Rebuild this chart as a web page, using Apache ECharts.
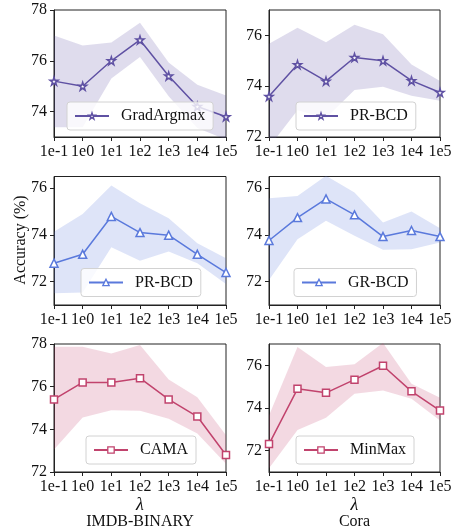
<!DOCTYPE html>
<html lang="en">
<head>
    <meta charset="UTF-8">
    <title>Accuracy vs lambda</title>
    <script src="https://cdn.jsdelivr.net/npm/echarts@6/dist/echarts.min.js"></script>
    <style>
        html, body { margin: 0; padding: 0; background: #fff; }
        #chart { width: 463px; height: 531px; }
    </style>
</head>
<body>
    <div id="chart"></div>
    <script>
        // x categories (lambda)
        const lambdas = ['1e-1', '1e0', '1e1', '1e2', '1e3', '1e4', '1e5'];

        // IMDB-BINARY, GradArgmax
        const gradArgmaxMean = [75.2, 75.0, 76.0, 76.82, 75.4, 74.2, 73.8];
        const gradArgmaxLow = [73.38, 73.38, 75.3, 76.15, 74.6, 73.35, 72.9];
        const gradArgmaxHigh = [77.0, 76.6, 76.72, 77.5, 75.93, 75.06, 74.63];

        // Cora, PR-BCD
        const prbcdCoraMean = [73.6, 74.85, 74.2, 75.13, 75.0, 74.22, 73.75];
        const prbcdCoraLow = [71.6, 73.05, 72.75, 73.85, 73.98, 73.62, 73.43];
        const prbcdCoraHigh = [75.67, 76.3, 75.73, 76.42, 76.05, 74.85, 74.2];

        // IMDB-BINARY, PR-BCD
        const prbcdImdbMean = [72.79, 73.17, 74.79, 74.1, 73.99, 73.17, 72.39];
        const prbcdImdbLow = [71.5, 71.54, 73.47, 72.89, 73.29, 72.79, 71.9];
        const prbcdImdbHigh = [74.14, 74.89, 76.11, 75.36, 74.71, 73.64, 73.0];

        // Cora, GR-BCD
        const grbcdMean = [73.76, 74.74, 75.54, 74.86, 73.93, 74.19, 73.93];
        const grbcdLow = [72.07, 73.81, 74.61, 73.96, 73.36, 73.39, 73.67];
        const grbcdHigh = [75.57, 75.67, 76.53, 75.81, 74.53, 75.0, 74.29];

        // IMDB-BINARY, CAMA
        const camaMean = [75.4, 76.2, 76.2, 76.4, 75.4, 74.6, 72.8];
        const camaLow = [73.05, 74.55, 74.9, 74.87, 74.5, 73.8, 72.39];
        const camaHigh = [77.87, 77.87, 77.56, 77.95, 76.34, 75.5, 73.72];

        // Cora, MinMax
        const minmaxMean = [72.31, 74.9, 74.71, 75.33, 75.98, 74.78, 73.88];
        const minmaxLow = [71.18, 72.97, 73.54, 74.67, 74.82, 74.43, 73.41];
        const minmaxHigh = [73.65, 76.86, 75.92, 76.05, 77.05, 75.14, 74.48];

        // y tick labels per panel
        const ticksGradArgmax = [74, 76, 78];
        const ticksPrbcdCora = [72, 74, 76];
        const ticksPrbcdImdb = [72, 74, 76];
        const ticksGrbcd = [72, 74, 76];
        const ticksCama = [72, 74, 76, 78];
        const ticksMinmax = [72, 74, 76];

        const SERIF = '"Liberation Serif", "Times New Roman", serif';
        const PURPLE = '#5f51a3';
        const BLUE = '#5a79dc';
        const RED = '#c1436d';
        const STAR = 'path://M50,0L61.17,34.63L97.55,34.55L68.07,55.87L79.39,90.45L50,69L20.61,90.45L31.93,55.87L2.45,34.55L38.83,34.63Z';

        const panels = [
            { label: 'GradArgmax', mean: gradArgmaxMean, low: gradArgmaxLow, high: gradArgmaxHigh, ticks: ticksGradArgmax,
              min: 73, max: 78, color: PURPLE, symbol: STAR, size: 8,
              grid: { left: 54, top: 10, width: 172, height: 127 }, leg: { left: 67, top: 102 } },
            { label: 'PR-BCD', mean: prbcdCoraMean, low: prbcdCoraLow, high: prbcdCoraHigh, ticks: ticksPrbcdCora,
              min: 72, max: 77, color: PURPLE, symbol: STAR, size: 8,
              grid: { left: 269, top: 10, width: 171, height: 127 }, leg: { left: 296, top: 102 } },
            { label: 'PR-BCD ', mean: prbcdImdbMean, low: prbcdImdbLow, high: prbcdImdbHigh, ticks: ticksPrbcdImdb,
              min: 71, max: 76.5, color: BLUE, symbol: 'triangle', size: 8,
              grid: { left: 54, top: 176.5, width: 172, height: 128.5 }, leg: { left: 81, top: 268.5 } },
            { label: 'GR-BCD', mean: grbcdMean, low: grbcdLow, high: grbcdHigh, ticks: ticksGrbcd,
              min: 71, max: 76.5, color: BLUE, symbol: 'triangle', size: 8,
              grid: { left: 269, top: 176.5, width: 171, height: 128.5 }, leg: { left: 294, top: 268.5 } },
            { label: 'CAMA', mean: camaMean, low: camaLow, high: camaHigh, ticks: ticksCama,
              min: 72, max: 78, color: RED, symbol: 'rect', size: 7,
              grid: { left: 54, top: 344, width: 172, height: 128 }, leg: { left: 86, top: 436 } },
            { label: 'MinMax', mean: minmaxMean, low: minmaxLow, high: minmaxHigh, ticks: ticksMinmax,
              min: 71, max: 77, color: RED, symbol: 'rect', size: 7,
              grid: { left: 269, top: 344, width: 171, height: 128 }, leg: { left: 296, top: 436 } }
        ];

        function bandColor(hex) {
            const n = parseInt(hex.slice(1), 16);
            return 'rgba(' + (n >> 16) + ',' + ((n >> 8) & 255) + ',' + (n & 255) + ',0.2)';
        }

        const series = [];
        panels.forEach(function (p, i) {
            series.push({
                type: 'line', name: 'low' + i, xAxisIndex: i, yAxisIndex: i,
                data: p.low, stack: 'band' + i, symbol: 'none', silent: true,
                lineStyle: { opacity: 0 }, z: 1
            });
            series.push({
                type: 'line', name: 'band' + i, xAxisIndex: i, yAxisIndex: i,
                data: p.high.map(function (v, k) { return +(v - p.low[k]).toFixed(3); }),
                stack: 'band' + i, symbol: 'none', silent: true,
                lineStyle: { opacity: 0 }, areaStyle: { color: bandColor(p.color), opacity: 1 }, z: 1
            });
            series.push({
                type: 'line', name: p.label, xAxisIndex: i, yAxisIndex: i,
                data: p.mean, color: p.color,
                symbol: p.symbol, symbolSize: p.size, showAllSymbol: true,
                itemStyle: { color: '#fff', borderColor: p.color, borderWidth: 1.5 },
                lineStyle: { color: p.color, width: 1.5 },
                z: 3
            });
        });

        const option = {
            animation: false,
            backgroundColor: '#fff',
            grid: panels.map(function (p) {
                return Object.assign({ show: true, borderColor: '#222', borderWidth: 1, backgroundColor: 'transparent' }, p.grid);
            }),
            xAxis: panels.map(function (p, i) {
                return {
                    type: 'category', gridIndex: i, data: lambdas, boundaryGap: false,
                    axisLine: { lineStyle: { color: '#222', width: 1 } },
                    axisTick: { show: true, inside: false, length: 4, alignWithLabel: true, interval: 0, lineStyle: { color: '#222' } },
                    axisLabel: { interval: 0, margin: 7, fontFamily: SERIF, fontSize: 16, color: '#111', hideOverlap: false },
                    splitLine: { show: false }
                };
            }),
            yAxis: panels.map(function (p, i) {
                return {
                    type: 'value', gridIndex: i, min: p.min, max: p.max,
                    axisLine: { show: true, lineStyle: { color: '#222', width: 1 } },
                    axisTick: { show: true, inside: false, length: 4, customValues: p.ticks, lineStyle: { color: '#222' } },
                    axisLabel: { customValues: p.ticks, margin: 7, fontFamily: SERIF, fontSize: 16, color: '#111' },
                    splitLine: { show: false }
                };
            }),
            legend: panels.map(function (p) {
                return {
                    data: [{ name: p.label, itemStyle: { color: '#fff', borderColor: p.color, borderWidth: 1.3 } }],
                    left: p.leg.left, top: p.leg.top,
                    itemWidth: 34, itemHeight: 8, padding: [6, 8, 6, 7],
                    backgroundColor: 'rgba(255,255,255,0.8)', borderColor: '#d2d2d2', borderWidth: 1, borderRadius: 3,
                    selectedMode: false,
                    formatter: function (n) { return n.trim(); },
                    textStyle: { fontFamily: SERIF, fontSize: 16, color: '#111', padding: [0, 0, 0, 7] }
                };
            }),
            graphic: [
                { type: 'text', x: 21, y: 240, rotation: Math.PI / 2,
                  style: { text: 'Accuracy (%)', fontFamily: SERIF, fontSize: 16, fill: '#111', align: 'center', verticalAlign: 'middle' } },
                { type: 'text', x: 140, y: 505,
                  style: { text: 'λ', fontFamily: SERIF, fontStyle: 'italic', fontSize: 18, fill: '#111', align: 'center', verticalAlign: 'middle' } },
                { type: 'text', x: 354.5, y: 505,
                  style: { text: 'λ', fontFamily: SERIF, fontStyle: 'italic', fontSize: 18, fill: '#111', align: 'center', verticalAlign: 'middle' } },
                { type: 'text', x: 140, y: 522,
                  style: { text: 'IMDB-BINARY', fontFamily: SERIF, fontSize: 16, fill: '#111', align: 'center', verticalAlign: 'middle' } },
                { type: 'text', x: 354.5, y: 522,
                  style: { text: 'Cora', fontFamily: SERIF, fontSize: 16, fill: '#111', align: 'center', verticalAlign: 'middle' } }
            ],
            series: series
        };

        const chart = echarts.init(document.getElementById('chart'), null, { renderer: 'canvas' });
        chart.setOption(option);
    </script>
</body>
</html>
